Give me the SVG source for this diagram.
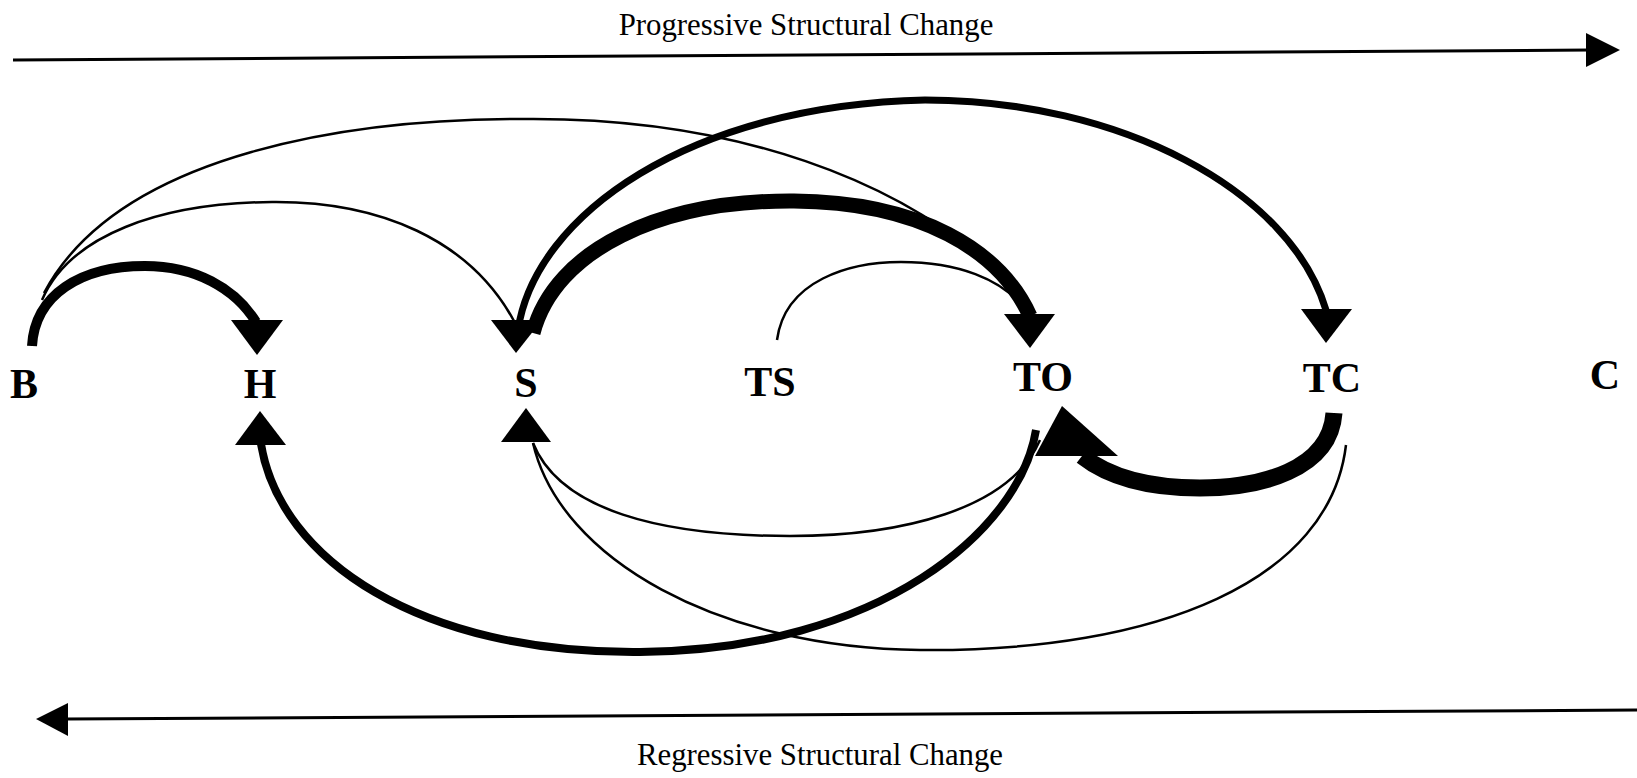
<svg xmlns="http://www.w3.org/2000/svg" width="1637" height="778" viewBox="0 0 1637 778">
<style>
.lbl{font-family:"Liberation Serif","Times New Roman",serif;font-weight:bold;font-size:42px;fill:#000;text-anchor:middle}
.cap{font-family:"Liberation Serif","Times New Roman",serif;font-size:30.8px;fill:#000;text-anchor:middle}
.c{fill:none;stroke:#000;stroke-linecap:butt}
.ah{fill:#000;stroke:none}
</style>
<rect width="1637" height="778" fill="#fff"/>
<g id="axes">
<line x1="13" y1="60" x2="1590" y2="50" stroke="#000" stroke-width="3"/>
<polygon class="ah" points="1586,33 1620,50 1586,67"/>
<text class="cap" x="806" y="35">Progressive Structural Change</text>
<line x1="66" y1="719" x2="1637" y2="710" stroke="#000" stroke-width="3"/>
<polygon class="ah" points="36,719 68,703 68,736"/>
<text class="cap" x="820" y="765">Regressive Structural Change</text>
</g>
<g id="connectors">
<path class="c" stroke-width="10" d="M32,346 C35,295 80,266 145,266 C195,266 235,288 256,322"/>
<polygon class="ah" points="231,320 283,320 257,355"/>
<path class="c" stroke-width="2.5" d="M42,300 C70,235 160,203 272,202 C380,201 470,240 514,321"/>
<polygon class="ah" points="491,320 542,320 516,353"/>
<path class="c" stroke-width="2.5" d="M44,293 C120,150 360,118 528,119 C720,118 910,172 1026,300"/>
<path class="c" stroke-width="15" d="M533,333 C555,250 660,200 794,201 C920,202 1000,250 1030,316"/>
<path class="c" stroke-width="7" d="M518,330 C535,215 690,105 925,100 C1120,100 1290,190 1326,310"/>
<path class="c" stroke-width="2.5" d="M777,340 C785,280 850,262 901,262 C960,262 1000,280 1022,305"/>
<polygon class="ah" points="1004,314 1055,314 1030,348"/>
<polygon class="ah" points="1301,309 1352,309 1326,343"/>
<path class="c" stroke-width="8" d="M1036,430 C1020,530 880,650 640,652 C420,654 280,560 261,444"/>
<polygon class="ah" points="260,411 235,445 286,445"/>
<path class="c" stroke-width="2.5" d="M1040,440 C1010,510 900,536 790,536 C660,536 560,510 533,443"/>
<path class="c" stroke-width="2.5" d="M1346,445 C1330,580 1160,652 920,650 C720,648 560,560 533,443"/>
<polygon class="ah" points="526,408 501,442 551,442"/>
<path class="c" stroke-width="17" d="M1334,413 C1330,470 1260,488 1200,488 C1150,488 1110,478 1082,456"/>
<polygon class="ah" points="1062,406 1035,456 1118,456"/>
</g>
<g id="node-B"><text class="lbl" x="24" y="398">B</text></g>
<g id="node-H"><text class="lbl" x="260" y="398">H</text></g>
<g id="node-S"><text class="lbl" x="526" y="397">S</text></g>
<g id="node-TS"><text class="lbl" x="770" y="396">TS</text></g>
<g id="node-TO"><text class="lbl" x="1043" y="391">TO</text></g>
<g id="node-TC"><text class="lbl" x="1332" y="392">TC</text></g>
<g id="node-C"><text class="lbl" x="1605" y="389">C</text></g>
</svg>
